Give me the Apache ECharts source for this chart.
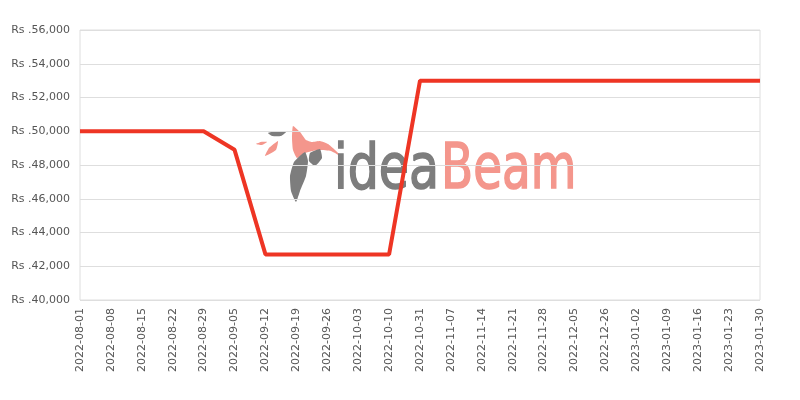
<!DOCTYPE html>
<html>
<head>
<meta charset="utf-8">
<script src="https://cdn.jsdelivr.net/npm/echarts@6/dist/echarts.min.js"></script>
<style>
  html, body { margin: 0; padding: 0; background: #fff; }
  #chart { width: 800px; height: 400px; }
</style>
</head>
<body>
<div id="chart"></div>
<script>
// weekly price points (some weeks missing in the source)
const dates = [
  '2022-08-01', '2022-08-08', '2022-08-15', '2022-08-22', '2022-08-29',
  '2022-09-05', '2022-09-12', '2022-09-19', '2022-09-26', '2022-10-03',
  '2022-10-10', '2022-10-31', '2022-11-07', '2022-11-14', '2022-11-21',
  '2022-11-28', '2022-12-05', '2022-12-26', '2023-01-02', '2023-01-09',
  '2023-01-16', '2023-01-23', '2023-01-30'
];
const prices = [
  50000, 50000, 50000, 50000, 50000,
  48900, 42700, 42700, 42700, 42700,
  42700, 53000, 53000, 53000, 53000,
  53000, 53000, 53000, 53000, 53000,
  53000, 53000, 53000
];

const LINE = '#ee3524';
const GRID = '#dedede';
const LABEL = '#555555';
const FONT = '"DejaVu Sans", sans-serif';
const MARK_GREY = '#7d7d7d';
const MARK_PINK = '#f4968c';
const MARK_FONT = '62px "DejaVu Sans Condensed", "DejaVu Sans", sans-serif';

// watermark logo (decoration only)
function poly(points, fill) {
  return { type: 'polygon', silent: true, z: 0, shape: { points, smooth: 0.15 }, style: { fill } };
}
const watermark = [
  poly([[293, 126], [300, 132], [306, 140], [312, 142], [320, 141], [328, 144], [334, 149], [342, 157], [331, 151], [318, 150], [305, 153], [297, 158], [293, 150], [292, 138]], MARK_PINK),
  poly([[305, 152], [308, 161], [306, 176], [300, 191], [296, 202], [291, 191], [290, 176], [294, 162]], MARK_GREY),
  poly([[310, 153], [320, 149], [322, 158], [315, 166], [309, 161]], MARK_GREY),
  poly([[268, 133], [276, 131], [286, 132], [281, 136], [272, 136]], MARK_GREY),
  poly([[256, 144], [261, 142], [267, 142], [262, 145]], MARK_PINK),
  poly([[265, 156], [269, 148], [278, 141], [276, 150]], MARK_PINK),
  { type: 'text', x: 334, y: 141, scaleX: 0.88, silent: true, z: 0,
    style: { text: 'idea', fill: MARK_GREY, stroke: MARK_GREY, lineWidth: 1.5, font: MARK_FONT } },
  { type: 'text', x: 441, y: 141, scaleX: 0.84, silent: true, z: 0,
    style: { text: 'Beam', fill: MARK_PINK, stroke: MARK_PINK, lineWidth: 1.5, font: MARK_FONT } }
];

const chart = echarts.init(document.getElementById('chart'), null, { renderer: 'canvas' });

chart.setOption({
  animation: false,
  textStyle: { fontFamily: FONT },
  grid: { left: 80, right: 40, top: 30, bottom: 100, containLabel: false, show: true, borderColor: GRID, borderWidth: 1 },
  xAxis: {
    type: 'category',
    data: dates,
    boundaryGap: false,
    axisLine: { show: false },
    axisTick: { show: false },
    axisLabel: { rotate: 90, color: LABEL, fontSize: 11, margin: 8, fontFamily: FONT, interval: 0 },
    splitLine: { show: false }
  },
  yAxis: {
    type: 'value',
    min: 40000,
    max: 56000,
    interval: 2000,
    axisLine: { show: false },
    axisTick: { show: false },
    axisLabel: {
      color: LABEL, fontSize: 11, margin: 10, fontFamily: FONT,
      formatter: (v) => 'Rs .' + v.toLocaleString('en-US')
    },
    splitLine: { lineStyle: { color: GRID, width: 1 } }
  },
  graphic: watermark,
  series: [{
    type: 'line',
    data: prices,
    symbol: 'none',
    z: 5,
    lineStyle: { color: LINE, width: 4 },
    itemStyle: { color: LINE }
  }]
});
</script>
</body>
</html>
